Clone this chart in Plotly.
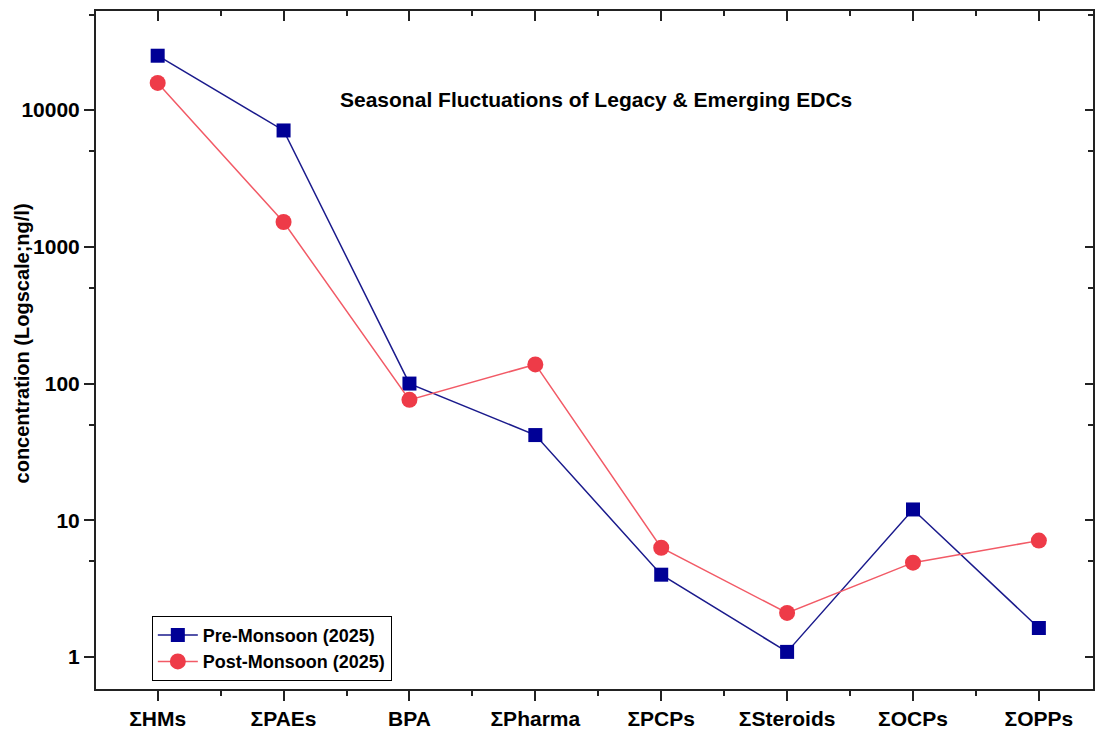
import plotly.graph_objects as go

categories = ["ΣHMs", "ΣPAEs", "BPA", "ΣPharma", "ΣPCPs", "ΣSteroids", "ΣOCPs", "ΣOPPs"]
pre_monsoon = [25000, 7100, 100, 42, 4.0, 1.09, 12, 1.63]
post_monsoon = [15800, 1520, 76, 138, 6.3, 2.1, 4.9, 7.1]
y_ticks = [1, 10, 100, 1000, 10000]
y_minor = [5, 50, 500, 5000, 50000]

x_pos = list(range(len(categories)))
axis_col = "#222222"
font_bold = dict(family="Liberation Sans, Arial", size=21, color="black", weight="bold")

fig = go.Figure()

fig.add_trace(go.Scatter(
	x=x_pos, y=pre_monsoon,
	name="Pre-Monsoon (2025)",
	mode="lines+markers",
	line=dict(color="#1a1a8c", width=1.5),
	marker=dict(symbol="square", size=14, color="#000096"),
))
fig.add_trace(go.Scatter(
	x=x_pos, y=post_monsoon,
	name="Post-Monsoon (2025)",
	mode="lines+markers",
	line=dict(color="#f25a66", width=1.5),
	marker=dict(symbol="circle", size=16, color="#ee3b48"),
))

x_range = [-0.49, 7.43]
y_range = [-0.234, 4.725]

fig.update_layout(
	width=1098,
	height=729,
	margin=dict(l=96, r=5, t=11, b=40, pad=0),
	paper_bgcolor="white",
	plot_bgcolor="white",
	font=dict(family="Liberation Sans, Arial", color="black"),
	xaxis=dict(
		range=x_range,
		tickvals=x_pos,
		ticktext=categories,
		tickfont=font_bold,
		ticks="outside", ticklen=10, tickwidth=1.5, tickcolor=axis_col,
		minor=dict(dtick=0.5, tick0=0, ticks="outside", ticklen=5, tickwidth=1.5, tickcolor=axis_col),
		showline=True, linecolor=axis_col, linewidth=2,
		showgrid=False, zeroline=False, automargin=False,
	),
	xaxis2=dict(
		overlaying="x", side="top", matches="x", range=x_range,
		tickvals=x_pos, showticklabels=False,
		ticks="inside", ticklen=10, tickwidth=1.5, tickcolor=axis_col,
		minor=dict(dtick=0.5, tick0=0, ticks="inside", ticklen=5, tickwidth=1.5, tickcolor=axis_col),
		showline=True, linecolor=axis_col, linewidth=2,
		showgrid=False, zeroline=False, automargin=False,
	),
	yaxis=dict(
		type="log",
		range=y_range,
		tickvals=y_ticks,
		ticktext=[str(v) for v in y_ticks],
		tickfont=font_bold,
		ticks="outside", ticklen=10, tickwidth=1.5, tickcolor=axis_col,
		minor=dict(tickvals=y_minor, ticks="outside", ticklen=5, tickwidth=1.5, tickcolor=axis_col),
		showline=True, linecolor=axis_col, linewidth=2,
		showgrid=False, zeroline=False, automargin=False,
	),
	yaxis2=dict(
		type="log", overlaying="y", side="right", matches="y", range=y_range,
		tickvals=y_ticks, showticklabels=False,
		ticks="inside", ticklen=8, tickwidth=1.5, tickcolor=axis_col,
		minor=dict(tickvals=y_minor, ticks="inside", ticklen=5, tickwidth=1.5, tickcolor=axis_col),
		showline=True, linecolor=axis_col, linewidth=2,
		showgrid=False, zeroline=False, automargin=False,
	),
	legend=dict(
		x=0.056, y=0.108, xanchor="left", yanchor="top",
		bgcolor="white", bordercolor="black", borderwidth=1,
		font=dict(family="Liberation Sans, Arial", size=18, color="black", weight="bold"),
		itemwidth=40, tracegroupgap=0,
	),
	showlegend=True,
)

# invisible trace so the mirrored axes get drawn
fig.add_trace(go.Scatter(x=[None], y=[None], xaxis="x2", yaxis="y2", showlegend=False, hoverinfo="skip"))

fig.add_annotation(
	text="Seasonal Fluctuations of Legacy & Emerging EDCs",
	xref="paper", yref="paper", x=0.5015, y=0.869,
	xanchor="center", yanchor="middle", showarrow=False,
	font=dict(family="Liberation Sans, Arial", size=21, color="black", weight="bold"),
)
fig.add_annotation(
	text="concentration (Logscale;ng/l)",
	xref="paper", yref="paper", x=-0.074, y=0.51,
	xanchor="center", yanchor="middle", textangle=-90, showarrow=False,
	font=dict(family="Liberation Sans, Arial", size=20, color="black", weight="bold"),
)

# page body has a default 8px margin, drop it so the figure sits at 0,0
fig.write_html(
	"out.html",
	config={"displayModeBar": False},
	post_script="document.body.style.margin='0';document.body.style.overflow='hidden';",
)
